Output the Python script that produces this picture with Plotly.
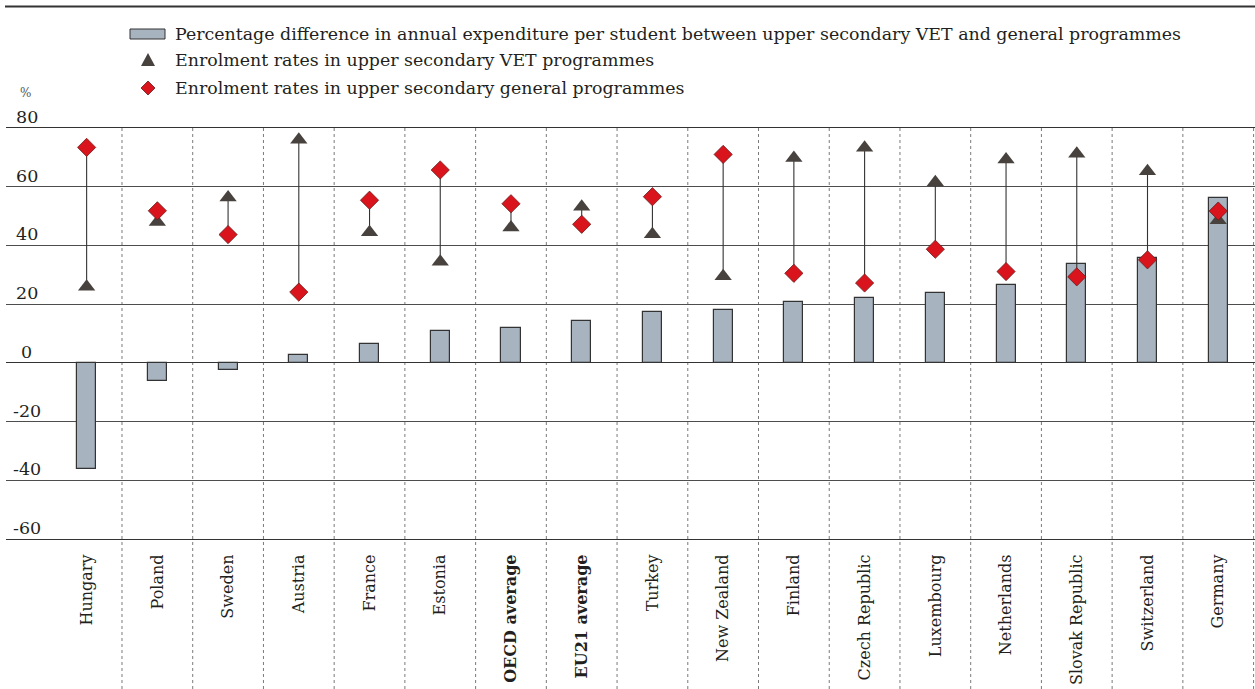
import plotly.graph_objects as go

categories = ["Hungary", "Poland", "Sweden", "Austria", "France", "Estonia",
              "OECD average", "EU21 average", "Turkey", "New Zealand", "Finland",
              "Czech Republic", "Luxembourg", "Netherlands", "Slovak Republic",
              "Switzerland", "Germany"]
bold_categories = ["OECD average", "EU21 average"]

expenditure_diff = [-36.3, -6.1, -2.6, 2.6, 6.5, 10.8, 11.8, 14.2, 17.3, 18.1, 20.7,
                    22.1, 23.7, 26.6, 33.8, 35.7, 56.3]
vet_enrol = [25.9, 48.0, 56.3, 76.0, 44.5, 34.4, 46.1, 53.2, 43.8, 29.5, 69.8,
             73.3, 61.5, 69.3, 71.2, 65.3, 48.6]
gen_enrol = [73.4, 51.8, 43.7, 24.1, 55.4, 65.7, 54.2, 47.2, 56.6, 71.0, 30.5,
             27.2, 38.7, 31.1, 29.3, 35.1, 51.7]

y_ticks = [80, 60, 40, 20, 0, -20, -40, -60]
legend_labels = [
    "Percentage difference in annual expenditure per student between upper secondary VET and general programmes",
    "Enrolment rates in upper secondary VET programmes",
    "Enrolment rates in upper secondary general programmes",
]

FONT = "DejaVu Serif"
TXT = "#231f20"
BAR = "#a7b3bf"
TRI = "#48423f"
RED = "#d9141c"

# pixel geometry of the plot area
L, T, W, H = 6, 128, 1249, 411


def px(x):
    return (x - L) / W


def py(y):
    return 1 - (y - T) / H


n = len(categories)
idx = list(range(n))
ticktext = [f"<b>{c}</b>" if c in bold_categories else c for c in categories]

fig = go.Figure()

fig.add_trace(go.Bar(
    x=idx, y=expenditure_diff, width=0.27,
    marker=dict(color=BAR, line=dict(color="#333333", width=1.2)),
    name=legend_labels[0], showlegend=False,
))

# connector lines
lx, ly = [], []
for i in idx:
    lx += [i, i, None]
    ly += [vet_enrol[i], gen_enrol[i], None]
fig.add_trace(go.Scatter(x=lx, y=ly, mode="lines",
                         line=dict(color="#333333", width=1.1),
                         showlegend=False, hoverinfo="skip"))

fig.add_trace(go.Scatter(
    x=idx, y=vet_enrol, mode="markers", name=legend_labels[1], showlegend=False,
    marker=dict(symbol="triangle-up", size=15, color=TRI),
))
fig.add_trace(go.Scatter(
    x=idx, y=gen_enrol, mode="markers", name=legend_labels[2], showlegend=False,
    marker=dict(symbol="diamond", size=14, color=RED, line=dict(color="#6a1c1c", width=0.8)),
))

shapes = []
# dashed category dividers extending through the label area
for i in range(n):
    shapes.append(dict(type="line", xref="x", yref="paper",
                       x0=i + 0.5, x1=i + 0.5, y0=py(689), y1=1,
                       line=dict(color="#7a7a7a", width=1, dash="3px,3px"),
                       layer="below"))
# top rule
shapes.append(dict(type="line", xref="paper", yref="paper",
                   x0=px(5), x1=1, y0=py(6.5), y1=py(6.5),
                   line=dict(color="#333333", width=2), layer="above"))
# manual legend symbols
shapes.append(dict(type="rect", xref="paper", yref="paper",
                   x0=px(130), x1=px(165), y0=py(29), y1=py(39),
                   fillcolor=BAR, line=dict(color="#333333", width=1)))
tri = [(148, 53), (141, 66), (155, 66)]
shapes.append(dict(type="path", xref="paper", yref="paper",
                   path="M " + " L ".join(f"{px(a)},{py(b)}" for a, b in tri) + " Z",
                   fillcolor=TRI, line=dict(width=0)))
dia = [(148, 81), (155, 88), (148, 95), (141, 88)]
shapes.append(dict(type="path", xref="paper", yref="paper",
                   path="M " + " L ".join(f"{px(a)},{py(b)}" for a, b in dia) + " Z",
                   fillcolor=RED, line=dict(color="#6a1c1c", width=0.8)))

annotations = []
for label, yc in zip(legend_labels, [34, 60, 88]):
    annotations.append(dict(text=label, xref="paper", yref="paper",
                            x=px(173), y=py(yc), xanchor="left", yanchor="middle",
                            showarrow=False, font=dict(family=FONT, size=17.4, color=TXT)))
for t in y_ticks:
    annotations.append(dict(text=str(t), xref="paper", yref="y",
                            x=px(26.5), y=t, xanchor="center", yanchor="bottom",
                            yshift=-1, showarrow=False,
                            font=dict(family=FONT, size=17.5, color=TXT)))
annotations.append(dict(text="%", xref="paper", yref="paper", x=px(25), y=py(93),
                        xanchor="center", yanchor="middle", showarrow=False,
                        font=dict(family=FONT, size=12, color="#555555")))

fig.update_layout(
    width=1255, height=689,
    margin=dict(l=L, r=0, t=T, b=689 - T - H, pad=0),
    paper_bgcolor="white", plot_bgcolor="white",
    showlegend=False,
    bargap=0,
    shapes=shapes, annotations=annotations,
    font=dict(family=FONT, color=TXT),
    xaxis=dict(
        range=[-1.14, 16.52], tickmode="array", tickvals=idx, ticktext=ticktext,
        tickangle=-90, ticks="", ticklabelstandoff=8,
        tickfont=dict(family=FONT, size=16, color=TXT),
        showgrid=False, zeroline=False,
        showline=True, mirror=True, linecolor="#333333", linewidth=1.2,
    ),
    yaxis=dict(
        range=[-60, 80], tickmode="array", tickvals=y_ticks, showticklabels=False,
        ticks="", showgrid=True, gridcolor="#4d4d4d", gridwidth=1,
        zeroline=True, zerolinecolor="#333333", zerolinewidth=1.2,
        showline=False,
    ),
)

fig.write_html("out.html", config={"displayModeBar": False},
               post_script="document.body.style.margin='0';document.body.style.overflow='hidden';")
